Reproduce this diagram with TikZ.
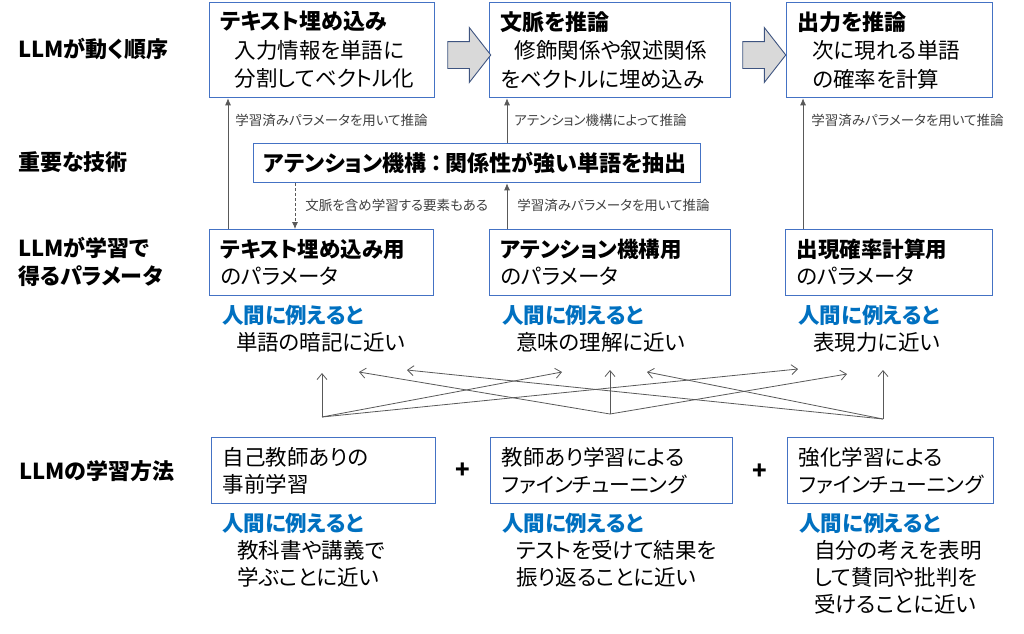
\documentclass[tikz,border=0pt]{standalone}
\usepackage{fontspec}
\setmainfont{Noto Sans CJK JP}[RawFeature=+palt]
\usetikzlibrary{arrows.meta,shapes.arrows}

\definecolor{boxblue}{HTML}{4472C4}
\definecolor{hblue}{HTML}{0070C0}
\definecolor{arrowfill}{HTML}{D9D9D9}
\definecolor{arrowedge}{HTML}{3E5480}
\definecolor{linegray}{HTML}{595959}
\definecolor{notegray}{HTML}{404040}

\newcommand\hbf{\bfseries\fontsize{22}{28}\selectfont}
\newcommand\tatoe{{\color{hblue}\bfseries 人間に例えると}}
\newcommand\kata{\fontsize{20.8}{27}\selectfont}

\begin{document}
\begin{tikzpicture}[x=1pt,y=-1pt]
	\tikzstyle{box} = [draw=boxblue, line width=1.3, anchor=north west, inner xsep=11, inner ysep=0,
			align=left, font=\fontsize{21.5}{27}\selectfont]
	\tikzstyle{rowlabel} = [anchor=west, inner sep=0, align=left, font=\bfseries\fontsize{22}{28}\selectfont]
	\tikzstyle{analogy} = [anchor=north west, inner sep=0, align=left, font=\fontsize{21.5}{27}\selectfont]
	\tikzstyle{note} = [anchor=west, inner sep=0, text=notegray, font=\fontsize{13.5}{16}\selectfont]
	\tikzstyle{flow} = [single arrow, draw=arrowedge, fill=arrowfill, line width=0.9, inner xsep=0, inner ysep=13,
			minimum height=43, single arrow head extend=14, single arrow tip angle=104]
	\tikzstyle{infer} = [-{Latex[length=7pt,width=6pt]}, draw=linegray, line width=0.8]
	\tikzstyle{maparrow} = [-{Straight Barb[length=6pt,width=10pt]}, draw=linegray, line width=0.8]
	\useasboundingbox (0,0) rectangle (1024,633);

	% row labels
	\node [rowlabel] (r1) at (18,49) {LLMが動く順序};
	\node [rowlabel] (r2) at (18,162) {重要な技術};
	\node [rowlabel] (r3) at (18,262) {LLMが学習で\\得るパラメータ};
	\node [rowlabel] (r4) at (19,471) {LLMの学習方法};

	% inference steps
	\node [box, text width=203, minimum height=95, font=\fontsize{21.5}{28.5}\selectfont] (emb) at (209,2)
		{{\hbf テキスト埋め込み}\\\hspace*{14pt}入力情報を単語に\\\hspace*{14pt}分割してベクトル化};
	\node [box, text width=219, minimum height=95, font=\fontsize{21.5}{28.5}\selectfont] (ctx) at (489,2)
		{{\hbf 文脈を推論}\\\hspace*{14pt}修飾関係や叙述関係\\をベクトルに埋め込み};
	\node [box, text width=184, minimum height=95, font=\fontsize{21.5}{28.5}\selectfont] (out) at (786,2)
		{{\hbf 出力を推論}\\\hspace*{15pt}次に現れる単語\\\hspace*{15pt}の確率を計算};
	\node [flow] (f1) at (464,55) {};
	\node [flow] (f2) at (759,55) {};

	\node [box, text width=427, minimum height=39, inner xsep=10, font=\hbf] (att) at (253,143)
		{アテンション機構\hspace{4pt}：\hspace{4pt}関係性が強い単語を抽出};

	% parameters
	\node [box, text width=202, minimum height=66] (pemb) at (209,229) {\textbf{テキスト埋め込み用}\\のパラメータ};
	\node [box, text width=219, minimum height=66] (pattn) at (489,229) {\textbf{アテンション機構用}\\のパラメータ};
	\node [box, text width=185, minimum height=66] (pout) at (785,229) {\textbf{出現確率計算用}\\のパラメータ};

	\node [analogy] (aemb) at (222,305) {\tatoe\\\hspace*{14pt}単語の暗記に近い};
	\node [analogy] (aattn) at (502,305) {\tatoe\\\hspace*{14pt}意味の理解に近い};
	\node [analogy] (aout) at (798,305) {\tatoe\\\hspace*{15pt}表現力に近い};

	% learning methods
	\node [box, text width=202, minimum height=66] (pre) at (211,437) {自己教師ありの\\事前学習};
	\node [box, text width=220, minimum height=66] (sft) at (490,437) {教師あり学習による\\{\kata ファインチューニング}};
	\node [box, text width=184, minimum height=66] (rl) at (787,437) {強化学習による\\{\kata ファインチューニング}};
	\node [font=\bfseries\fontsize{24}{24}\selectfont] (plus1) at (463,471) {+};
	\node [font=\bfseries\fontsize{24}{24}\selectfont] (plus2) at (760,472) {+};

	\node [analogy] (apre) at (222,513) {\tatoe\\\hspace*{15pt}教科書や講義で\\\hspace*{15pt}学ぶことに近い};
	\node [analogy] (asft) at (502,513) {\tatoe\\\hspace*{14pt}テストを受けて結果を\\\hspace*{14pt}振り返ることに近い};
	\node [analogy] (arl) at (799,513) {\tatoe\\\hspace*{15pt}自分の考えを表明\\\hspace*{15pt}して賛同や批判を\\\hspace*{15pt}受けることに近い};

	% vertical connectors
	\coordinate (x1) at (228,0);
	\coordinate (x2) at (507,0);
	\coordinate (x3) at (803,0);
	\coordinate (xd) at (295,0);
	\draw [infer] (x1 |- pemb.north) -- node [note, pos=0.83, xshift=7] {学習済みパラメータを用いて推論} (x1 |- emb.south);
	\draw [infer] (x2 |- att.north) -- node [note, pos=0.5, xshift=7] {アテンション機構によって推論} (x2 |- ctx.south);
	\draw [infer] (x3 |- pout.north) -- node [note, pos=0.83, xshift=8] {学習済みパラメータを用いて推論} (x3 |- out.south);
	\draw [infer, dash pattern=on 3pt off 2pt] (xd |- att.south) -- node [note, pos=0.49, xshift=10] {文脈を含め学習する要素もある} (xd |- pemb.north);
	\draw [infer] (x2 |- pattn.north) -- node [note, pos=0.51, xshift=10] {学習済みパラメータを用いて推論} (x2 |- att.south);

	% methods feed all parameters
	\coordinate (mL) at (322,417);
	\coordinate (mM) at (610,414);
	\coordinate (mR) at (883,419);
	\coordinate (tL) at (322,373);
	\coordinate (tLM) at (562,372);
	\coordinate (tLR) at (798,369);
	\coordinate (tM) at (610,370);
	\coordinate (tML) at (359,372);
	\coordinate (tMR) at (847,374);
	\coordinate (tR) at (883,370);
	\coordinate (tRL) at (407,370);
	\coordinate (tRM) at (647,372);
	\draw [maparrow] (mL) -- (tL);
	\draw [maparrow] (mL) -- (tLM);
	\draw [maparrow] (mL) -- (tLR);
	\draw [maparrow] (mM) -- (tM);
	\draw [maparrow] (mM) -- (tML);
	\draw [maparrow] (mM) -- (tMR);
	\draw [maparrow] (mR) -- (tR);
	\draw [maparrow] (mR) -- (tRL);
	\draw [maparrow] (mR) -- (tRM);
\end{tikzpicture}
\end{document}
